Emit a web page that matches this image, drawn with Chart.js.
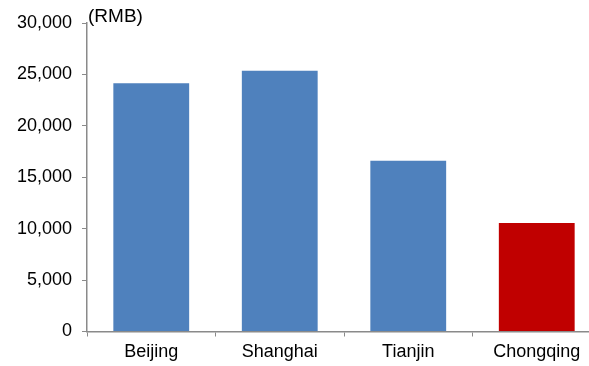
<!DOCTYPE html>
<html>
<head>
<meta charset="utf-8">
<script src="https://cdn.jsdelivr.net/npm/chart.js@4"></script>
<style>
  html, body { margin: 0; padding: 0; background: #fff; overflow: hidden; }
  #wrap { width: 602px; height: 366px; }
</style>
</head>
<body>
<div id="wrap"><canvas id="c" width="602" height="366"></canvas></div>
<script>
// Average monthly wage by city (RMB)
const cities = ['Beijing', 'Shanghai', 'Tianjin', 'Chongqing'];
const wages = [24150, 25350, 16600, 10550];
const barColors = ['#4F81BD', '#4F81BD', '#4F81BD', '#C00000'];
const yTicks = [0, 5000, 10000, 15000, 20000, 25000, 30000];
const unitLabel = '(RMB)';

const axisGray = '#8a8a8a';
const font = { family: 'Liberation Sans, Arial, sans-serif', size: 18 };

const unitPlugin = {
  id: 'unitLabel',
  afterDraw(chart) {
    const ctx = chart.ctx;
    ctx.save();
    ctx.font = '19px "Liberation Sans", Arial, sans-serif';
    ctx.fillStyle = '#000';
    ctx.textBaseline = 'alphabetic';
    ctx.textAlign = 'left';
    ctx.fillText(unitLabel, chart.chartArea.left + 1, 22);
    ctx.restore();
  }
};

new Chart(document.getElementById('c'), {
  type: 'bar',
  data: {
    labels: cities,
    datasets: [{
      data: wages,
      backgroundColor: barColors,
      borderWidth: 0,
      categoryPercentage: 1.0,
      barPercentage: 0.59
    }]
  },
  options: {
    responsive: false,
    animation: false,
    devicePixelRatio: 1,
    layout: { padding: { top: 23, right: 1, left: 0, bottom: 0 } },
    plugins: { legend: { display: false }, tooltip: { enabled: false } },
    scales: {
      x: {
        grid: {
          display: true,
          drawOnChartArea: false,
          drawTicks: true,
          tickLength: 5,
          color: axisGray,
          offset: true
        },
        border: { display: true, color: axisGray, width: 1.5 },
        ticks: { color: '#000', font: font, padding: 5 },
        afterFit(s) { s.height = 34.5; }
      },
      y: {
        min: 0,
        max: 30000,
        afterBuildTicks(s) { s.ticks = yTicks.map(v => ({ value: v })); },
        grid: {
          display: true,
          drawOnChartArea: false,
          drawTicks: true,
          tickLength: 5,
          color: axisGray
        },
        border: { display: true, color: axisGray, width: 1.5 },
        ticks: {
          color: '#000',
          font: font,
          padding: 10,
          callback: v => Number(v).toLocaleString('en-US')
        },
        afterFit(s) { s.width = 87; }
      }
    }
  },
  plugins: [unitPlugin]
});
</script>
</body>
</html>
